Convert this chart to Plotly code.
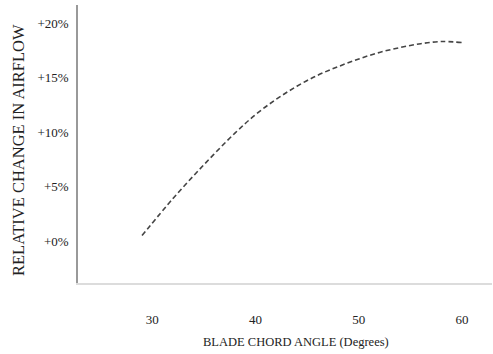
import plotly.graph_objects as go

angles = [29, 32, 35, 38, 40, 42, 44, 46, 48, 50, 52, 54, 56, 58, 60]
airflow = [0.5, 3.9, 7.0, 9.9, 11.6, 13.0, 14.2, 15.2, 16.0, 16.7, 17.3, 17.75, 18.1, 18.3, 18.2]
x_ticks = [30, 40, 50, 60]
y_ticks = [0, 5, 10, 15, 20]
y_tick_labels = ["+0%", "+5%", "+10%", "+15%", "+20%"]

font_family = "Liberation Serif"

W, H = 493, 354
ML, MR, MT, MB = 78, 1, 5, 71
pw = W - ML - MR
ph = H - MT - MB

def px_to_paper_x(px):
    return (px - ML) / pw

def px_to_paper_y(py):
    return (H - MB - py) / ph

fig = go.Figure()
fig.add_trace(go.Scatter(
    x=angles, y=airflow, mode="lines",
    line=dict(color="#444444", width=1.6, dash="5px,3px", shape="spline", smoothing=1.0),
    showlegend=False, hoverinfo="skip",
))

fig.update_layout(
    width=W, height=H,
    margin=dict(l=ML, r=MR, t=MT, b=MB, autoexpand=False),
    paper_bgcolor="white", plot_bgcolor="white",
    font=dict(family=font_family, size=13, color="#222222"),
    xaxis=dict(
        range=[22.8, 62.9], tickvals=x_ticks, ticktext=[str(v) for v in x_ticks],
        showgrid=False, zeroline=False, showline=True, linecolor="#dcdcdc", linewidth=2,
        ticks="outside", ticklen=23, tickcolor="rgba(0,0,0,0)", automargin=False,
        tickfont=dict(family=font_family, size=13, color="#222222"),
    ),
    yaxis=dict(
        range=[-3.85, 21.65], tickvals=y_ticks, ticktext=y_tick_labels,
        showgrid=False, zeroline=False, showline=True, linecolor="#999999", linewidth=1.5,
        ticks="outside", ticklen=5, tickcolor="rgba(0,0,0,0)", automargin=False,
        tickfont=dict(family=font_family, size=13, color="#222222"),
    ),
    annotations=[
        dict(text="BLADE CHORD ANGLE (Degrees)", xref="paper", yref="paper",
             x=px_to_paper_x(296), y=px_to_paper_y(342), xanchor="center", yanchor="middle",
             showarrow=False, font=dict(family=font_family, size=12.5, color="#222222")),
        dict(text="RELATIVE CHANGE IN AIRFLOW", textangle=-90, xref="paper", yref="paper",
             x=px_to_paper_x(18), y=px_to_paper_y(150), xanchor="center", yanchor="middle",
             showarrow=False, font=dict(family=font_family, size=16.5, color="#222222")),
    ],
)

fig.write_html(
    "out.html",
    config={"displayModeBar": False},
    post_script="document.body.style.margin='0';document.body.style.overflow='hidden';",
)
